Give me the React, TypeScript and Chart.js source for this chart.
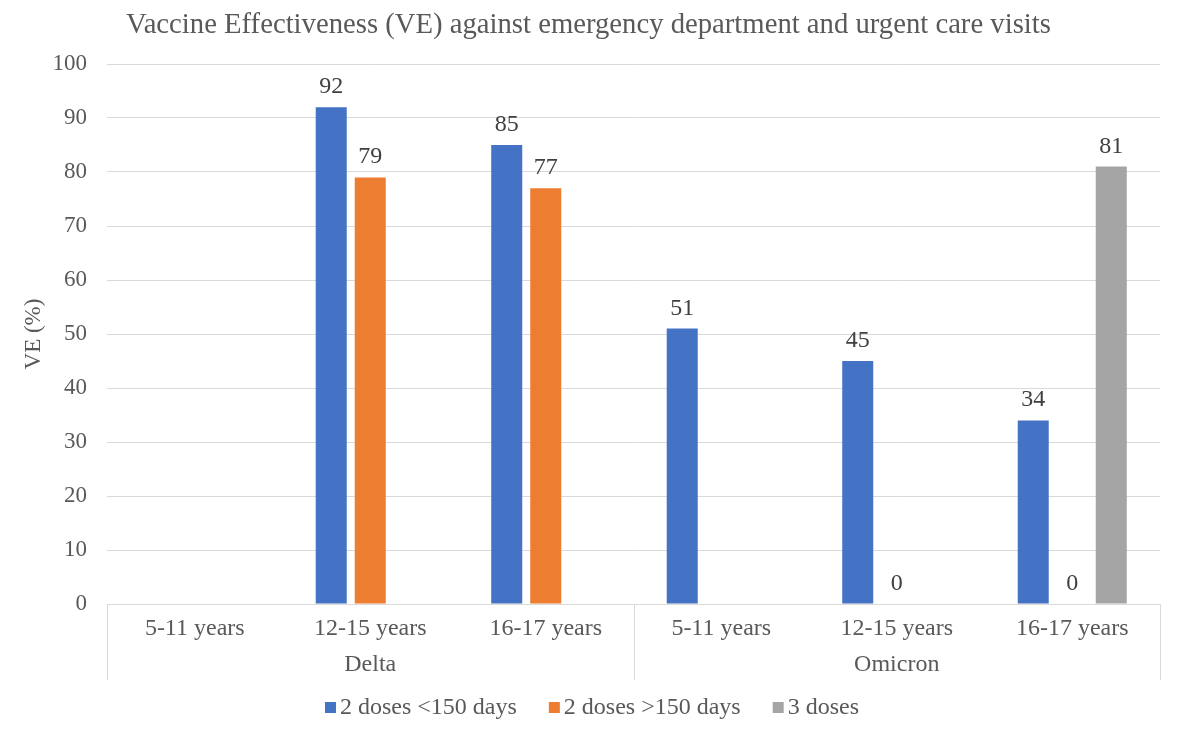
import React, { useEffect, useRef } from "react";
import { Chart, registerables } from "chart.js";

Chart.register(...registerables);

const FONT = '"Liberation Serif", "Times New Roman", serif';

const categories = ["5-11 years", "12-15 years", "16-17 years", "5-11 years", "12-15 years", "16-17 years"];
const groups = ["Delta", "Omicron"];
const groupSizes = [3, 3];
const seriesNames = ["2 doses <150 days", "2 doses >150 days", "3 doses"];
const seriesColors = ["#4472C4", "#ED7D31", "#A5A5A5"];
const twoDosesUnder150 = [null, 92, 85, 51, 45, 34];
const twoDosesOver150 = [null, 79, 77, null, 0, 0];
const threeDoses = [null, null, null, null, null, 81];
const yMin = 0;
const yMax = 100;
const yStep = 10;
const chartTitle = "Vaccine Effectiveness (VE) against emergency department and urgent care visits";
const yTitle = "VE (%)";

const overlayPlugin = {
  id: "overlay",
  afterDatasetsDraw(chart: any) {
    const ctx = chart.ctx;
    ctx.save();
    ctx.font = `24px ${FONT}`;
    ctx.fillStyle = "#404040";
    ctx.textAlign = "center";
    ctx.textBaseline = "alphabetic";
    chart.data.datasets.forEach((ds: any, i: number) => {
      const meta = chart.getDatasetMeta(i);
      meta.data.forEach((el: any, j: number) => {
        const v = ds.data[j];
        if (v === null || v === undefined) return;
        ctx.fillText(String(v), el.x, el.y - 14);
      });
    });
    ctx.restore();
  },
  afterDraw(chart: any) {
    const ctx = chart.ctx;
    const area = chart.chartArea;
    const xs = chart.scales.x;
    const catW = (area.right - area.left) / categories.length;
    ctx.save();
    // title
    ctx.font = `28.7px ${FONT}`;
    ctx.fillStyle = "#595959";
    ctx.textAlign = "center";
    ctx.textBaseline = "alphabetic";
    ctx.fillText(chartTitle, 588.5, 33);
    // group separators
    ctx.strokeStyle = "#d9d9d9";
    ctx.lineWidth = 1;
    let idx = 0;
    const bounds: number[] = [0];
    groupSizes.forEach((s) => {
      idx += s;
      bounds.push(idx);
    });
    bounds.forEach((b) => {
      const px = Math.round(xs.getPixelForValue(0) - catW / 2 + b * catW) + 0.5;
      ctx.beginPath();
      ctx.moveTo(px, area.bottom);
      ctx.lineTo(px, area.bottom + 76);
      ctx.stroke();
    });
    // group labels
    ctx.font = `24px ${FONT}`;
    ctx.fillStyle = "#595959";
    ctx.textAlign = "center";
    ctx.textBaseline = "middle";
    let start = 0;
    groups.forEach((g, gi) => {
      const s = groupSizes[gi];
      const left = xs.getPixelForValue(start) - catW / 2;
      const cx = left + (s * catW) / 2;
      ctx.fillText(g, cx, area.bottom + 61);
      start += s;
    });
    // legend
    const boxW = 11;
    const gapBT = 4;
    const gapItems = 32;
    ctx.font = `24px ${FONT}`;
    const widths = seriesNames.map((n) => boxW + gapBT + ctx.measureText(n).width);
    const total = widths.reduce((a, b) => a + b, 0) + gapItems * (seriesNames.length - 1);
    let x = chart.width / 2 - total / 2 + 2;
    const ly = 707;
    seriesNames.forEach((n, i) => {
      ctx.fillStyle = seriesColors[i];
      ctx.fillRect(x, ly - 5, boxW, boxW);
      ctx.fillStyle = "#595959";
      ctx.textAlign = "left";
      ctx.textBaseline = "middle";
      ctx.fillText(n, x + boxW + gapBT, ly + 1);
      x += widths[i] + gapItems;
    });
    ctx.restore();
  },
};

export default function App() {
  const ref = useRef<HTMLCanvasElement>(null);
  useEffect(() => {
    if (!ref.current) return;
    const seriesData = [twoDosesUnder150, twoDosesOver150, threeDoses];
    const chart = new Chart(ref.current, {
      type: "bar",
      data: {
        labels: categories,
        datasets: seriesNames.map((n, i) => ({
          label: n,
          data: seriesData[i] as any,
          backgroundColor: seriesColors[i],
          borderWidth: 0,
          categoryPercentage: 0.667,
          barPercentage: 0.795,
        })),
      },
      options: {
        animation: false,
        responsive: true,
        maintainAspectRatio: false,
        layout: { padding: { left: 0, right: 20, top: 64, bottom: 0 } },
        plugins: {
          legend: { display: false },
          tooltip: { enabled: false },
          title: { display: false },
        },
        scales: {
          x: {
            grid: { display: false },
            border: { display: false },
            ticks: {
              color: "#595959",
              font: { family: FONT, size: 24 },
              padding: 2,
              maxRotation: 0,
              autoSkip: false,
            },
            afterFit: (scale: any) => {
              scale.height = 130;
            },
          },
          y: {
            min: yMin,
            max: yMax,
            ticks: {
              stepSize: yStep,
              color: "#595959",
              font: { family: FONT, size: 23 },
              padding: 20,
            },
            grid: { color: "#d9d9d9", drawTicks: false, lineWidth: 1 },
            border: { display: false },
            title: {
              display: true,
              text: yTitle,
              color: "#595959",
              font: { family: FONT, size: 23 },
              padding: { top: 20, bottom: 0 },
            },
            afterFit: (scale: any) => {
              scale.width = 107;
            },
          },
        },
      },
      plugins: [overlayPlugin],
    });
    return () => chart.destroy();
  }, []);
  return (
    <div style={{ position: "fixed", left: 0, top: 0, width: 1180, height: 734, background: "#fff" }}>
      <canvas ref={ref} />
    </div>
  );
}
